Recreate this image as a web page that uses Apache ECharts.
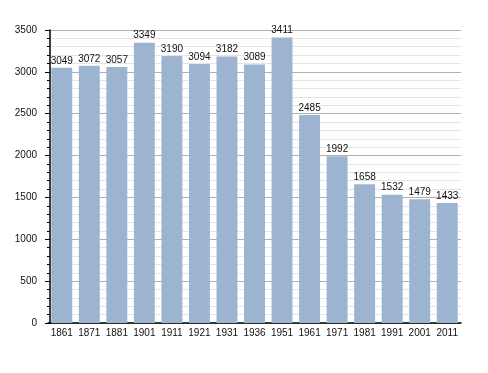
<!DOCTYPE html>
<html><head><meta charset="utf-8">
<script src="https://cdn.jsdelivr.net/npm/echarts@6/dist/echarts.min.js"></script>
<style>html,body{margin:0;padding:0;background:#fff}#c{width:488px;height:373px}</style>
</head><body><div id="c"></div>
<script>
const years = ['1861','1871','1881','1901','1911','1921','1931','1936','1951','1961','1971','1981','1991','2001','2011'];
const population = [3049,3072,3057,3349,3190,3094,3182,3089,3411,2485,1992,1658,1532,1479,1433];
const yTicks = [0,500,1000,1500,2000,2500,3000,3500];

const chart = echarts.init(document.getElementById('c'), null, {renderer:'canvas'});
const font = 'Liberation Sans, Arial, sans-serif';
chart.setOption({
  animation:false,
  grid:{left:48,right:27,top:30,bottom:50},
  xAxis:{
    type:'category', data:years,
    axisLine:{lineStyle:{color:'#000',width:1.5}},
    axisTick:{show:false},
    axisLabel:{color:'#111',fontSize:10,fontFamily:font,margin:5,interval:0}
  },
  yAxis:{
    type:'value', min:yTicks[0], max:yTicks[yTicks.length-1], interval:500,
    offset:-2,
    axisLine:{show:true,lineStyle:{color:'#000',width:1.5}},
    axisTick:{show:true,length:5,lineStyle:{color:'#000'}},
    minorTick:{show:true,splitNumber:5,length:3,lineStyle:{color:'#000'}},
    splitLine:{show:true,lineStyle:{color:'#b0b0b0',width:1}},
    minorSplitLine:{show:true,lineStyle:{color:'#e4e4e4',width:1}},
    axisLabel:{color:'#111',fontSize:10,fontFamily:font,margin:13,formatter:v=>String(v)}
  },
  series:[{
    type:'bar', data:population, barCategoryGap:'24%',
    itemStyle:{color:'#9cb4cf'},
    label:{show:true,position:'top',distance:2,color:'#111',fontSize:10,fontFamily:font}
  }]
});
</script></body></html>
